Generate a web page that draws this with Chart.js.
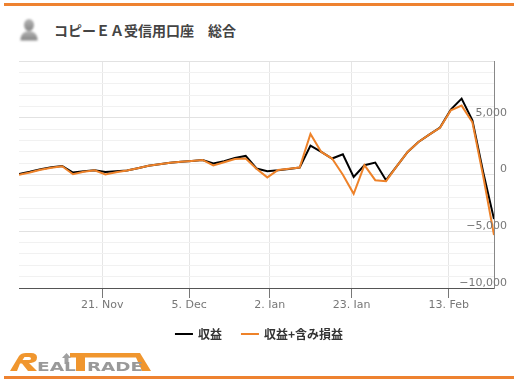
<!DOCTYPE html>
<html lang="ja">
<head>
<meta charset="utf-8">
<title>コピーＥＡ受信用口座　総合</title>
<script src="https://cdn.jsdelivr.net/npm/chart.js@4/dist/chart.umd.min.js"></script>
<style>
html,body{margin:0;padding:0;background:#fff;width:518px;height:384px;overflow:hidden}
#wrap{position:relative;width:518px;height:384px}
#c{position:absolute;left:0;top:0}
.bar{position:absolute;left:4px;width:510px;height:3px;background:#ee8230}
#title{position:absolute;left:54px;top:20px;font:bold 14px/20px "Noto Sans CJK JP";color:#444;white-space:pre}
svg{position:absolute}
</style>
</head>
<body>
<div id="wrap">
<div class="bar" style="top:3px"></div>
<div class="bar" style="top:376px"></div>
<svg style="left:17px;top:17px" width="24" height="28" viewBox="0 0 24 28">
<defs><linearGradient id="g" x1="0" y1="0" x2="0" y2="1"><stop offset="0" stop-color="#b5b5b5"/><stop offset="1" stop-color="#858585"/></linearGradient>
<filter id="b"><feGaussianBlur stdDeviation="0.8"/></filter></defs>
<g filter="url(#b)" fill="url(#g)">
<ellipse cx="12" cy="8" rx="5" ry="6"/>
<path d="M3.5 23.5 C3 17 8 14 12 14 C16 14 21 17 20.500 23.5 Z"/>
</g>
</svg>
<div id="title">コピーＥＡ受信用口座　総合</div>
<canvas id="c" width="518" height="384"></canvas>
<svg style="left:9px;top:352px" width="144" height="21" viewBox="0 0 144 21">
<path d="M1 19 L10 4 Q12 1 17 1 L22 1 Q28 1 28 5.5 Q28 10 22 11 L20 11 L28 19 L19 19 L13 11.5 L11 11.5 L8 19 Z M15.5 5 L13.500 8 L20 8 Q22 8 22 6.5 Q22 5 20 5 Z" fill="#f0962e" fill-rule="evenodd"/>
<path d="M61 1 L131 1 L142 19 L133 19 L127 5.5 L61 5.5 Z" fill="#f0962e"/>
<path d="M67 1 L76 1 L76 19 L67 19 Z" fill="#f0962e"/>
<path d="M57.500 1 L62 6 L59.500 6 L59.500 12 L55.500 12 L55.500 6 L53 6 Z" fill="#a0a0a0"/>
<text x="28" y="19" font-family="DejaVu Sans" font-weight="bold" font-size="13" fill="#999" textLength="39" lengthAdjust="spacingAndGlyphs">EAL</text>
<text x="78" y="19" font-family="DejaVu Sans" font-weight="bold" font-size="13" fill="#999" textLength="56" lengthAdjust="spacingAndGlyphs">RADE</text>
</svg>
</div>
<script>
const seriesNames = ["収益", "収益+含み損益"];
const profit = [53,246,466,642,756,176,290,378,229,290,352,554,774,906,1038,1126,1196,1284,967,1170,1460,1636,528,290,378,492,616,2550,1988,1407,1785,-211,818,1055,-501,730,1988,2867,3518,4134,5717,6684,4776,202,-3931];
const profitFloating = [-26,176,422,598,730,26,246,378,0,202,352,554,774,906,1038,1126,1196,1284,792,1082,1372,1416,510,-255,405,510,616,3570,1988,1407,-18,-1706,818,-501,-589,730,1988,2867,3518,4116,5655,6068,4600,-150,-5338];
const xTickPositions = [7.71,15.77,23.22,30.81,39.8];
const xTickLabels = ["21. Nov","5. Dec","2. Jan","23. Jan","13. Feb"];
const yTickLabels = {"-10000":"−10,000","-5000":"−5,000","0":"0","5000":"5,000"};

const toPoints = arr => arr.map((v,i)=>({x:i,y:v}));
const ORANGE = "#ee8229";
const legendNudge = {id:"legendNudge",afterLayout(chart){chart.legend.left-=3.5;chart.legend.right-=3.5;}};
new Chart(document.getElementById("c"),{
  type:"line",
  plugins:[legendNudge],
  data:{datasets:[
    {label:seriesNames[0],data:toPoints(profit),order:2,borderColor:"#000",backgroundColor:"#000",borderWidth:2,pointRadius:0,tension:0,borderJoinStyle:"miter"},
    {label:seriesNames[1],data:toPoints(profitFloating),order:1,borderColor:ORANGE,backgroundColor:ORANGE,borderWidth:2,pointRadius:0,tension:0,borderJoinStyle:"miter"}
  ]},
  options:{
    responsive:false,animation:false,
    layout:{padding:{left:19,right:11,top:61,bottom:34}},
    plugins:{
      tooltip:{enabled:false},
      legend:{position:"bottom",align:"center",labels:{boxWidth:16,boxHeight:0.01,padding:20,color:"#333",
        sort:(a,b)=>a.datasetIndex-b.datasetIndex,
        font:{family:'"Noto Sans CJK JP"',size:12,weight:"bold"}}}
    },
    scales:{
      x:{type:"linear",min:0,max:profit.length-1,
        afterBuildTicks:s=>{s.ticks=xTickPositions.map(v=>({value:v}));},
        afterFit:s=>{s.height=20;},
        grid:{color:"#e6e6e6",lineWidth:1,tickColor:"#777",tickLength:10,drawTicks:true},
        border:{color:"#555",width:1},
        ticks:{autoSkip:false,maxRotation:0,padding:1,color:"#777",font:{family:"DejaVu Sans",size:11},
          callback:(v,i)=>xTickLabels[i]}
      },
      y:{type:"linear",position:"right",min:-10000,max:10000,
        afterFit:s=>{s.width=13;},
        grid:{lineWidth:1,drawTicks:false,color:c=>c.tick.value%5000===0?"#e2e2e2":"#f1f1f1"},
        border:{color:"#888",width:1,z:1},
        ticks:{stepSize:1000,autoSkip:false,mirror:true,padding:13,labelOffset:-5,z:1,color:"#777",font:{family:"DejaVu Sans",size:11},
          callback:v=>yTickLabels[String(v)]||""}
      }
    }
  }
});
</script>
</body>
</html>
